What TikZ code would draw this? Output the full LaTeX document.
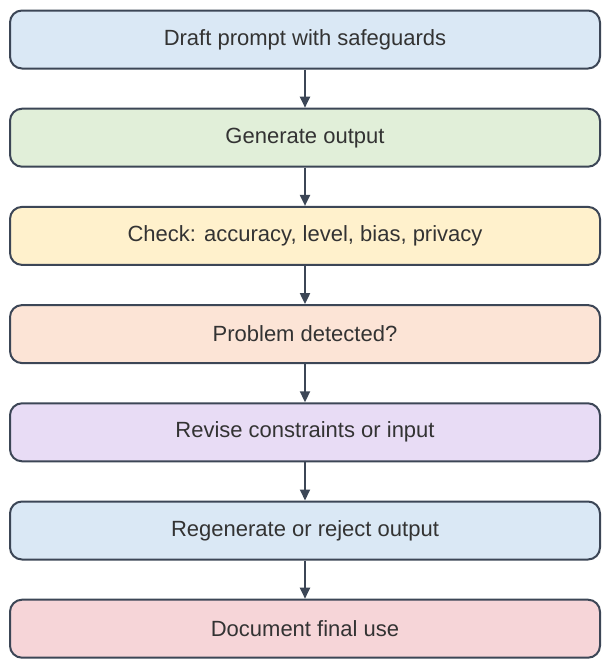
\documentclass[tikz,border=0pt]{standalone}
\usepackage{fontspec}
\setmainfont{Liberation Sans}
\usetikzlibrary{arrows.meta}
\definecolor{edge}{HTML}{3C4656}
\definecolor{txt}{HTML}{333333}
\definecolor{cblue}{HTML}{DAE8F5}
\definecolor{cgreen}{HTML}{E1EFD9}
\definecolor{cyellow}{HTML}{FFF1CC}
\definecolor{cpeach}{HTML}{FCE4D6}
\definecolor{cpurple}{HTML}{E8DCF5}
\definecolor{cpink}{HTML}{F6D5D8}
\tikzset{
  x=1pt,y=-1pt,
  stepbox/.style={draw=edge, line width=2pt, rounded corners=12pt, minimum width=590pt, minimum height=58pt, text=txt, font=\fontsize{22}{24}\selectfont, inner sep=0pt},
  flow/.style={draw=edge, line width=2pt, -{Triangle[length=11pt,width=10pt]}}
}
\begin{document}
\begin{tikzpicture}
\useasboundingbox (0,0) rectangle (610,667);
\node[stepbox, fill=cblue]   (a) at (305,39.5)  {Draft prompt with safeguards};
\node[stepbox, fill=cgreen]  (b) at (305,137.7) {Generate output};
\node[stepbox, fill=cyellow] (c) at (305,235.9) {Check: accuracy, level, bias, privacy};
\node[stepbox, fill=cpeach]  (d) at (305,334.1) {Problem detected?};
\node[stepbox, fill=cpurple] (e) at (305,432.3) {Revise constraints or input};
\node[stepbox, fill=cblue]   (f) at (305,530.5) {Regenerate or reject output};
\node[stepbox, fill=cpink]   (g) at (305,628.7) {Document final use};
\draw[flow] (a) -- (b);
\draw[flow] (b) -- (c);
\draw[flow] (c) -- (d);
\draw[flow] (d) -- (e);
\draw[flow] (e) -- (f);
\draw[flow] (f) -- (g);
\end{tikzpicture}
\end{document}
